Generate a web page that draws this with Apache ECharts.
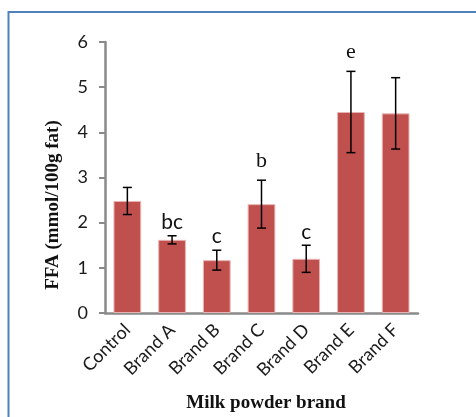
<!DOCTYPE html>
<html>
<head>
<meta charset="utf-8">
<script src="https://cdn.jsdelivr.net/npm/echarts@6/dist/echarts.min.js"></script>
<style>
html,body{margin:0;padding:0;background:#fff;}
#chart{width:476px;height:417px;}
</style>
</head>
<body>
<div id="chart"></div>
<script>
const categories = ['Control', 'Brand A', 'Brand B', 'Brand C', 'Brand D', 'Brand E', 'Brand F'];
const ffaValues = [2.48, 1.62, 1.17, 2.41, 1.20, 4.45, 4.42];
const ffaErrors = [0.30, 0.09, 0.22, 0.53, 0.30, 0.90, 0.79];
const sigLetters = ['', 'bc', 'c', 'b', 'c', 'e', ''];
const yTicks = [0, 1, 2, 3, 4, 5, 6];

const serifLetterSet = { b: true, e: true };
const sansFont = 'Lato, "Open Sans", "Liberation Sans", sans-serif';
const serifFont = '"Liberation Serif", "DejaVu Serif", serif';

const chart = echarts.init(document.getElementById('chart'), null, { renderer: 'canvas' });

const errData = categories.map((c, i) => [i, ffaValues[i], ffaErrors[i], sigLetters[i]]);

const option = {
  animation: false,
  backgroundColor: '#fff',
  grid: { left: 105, right: 58, top: 42, bottom: 104, containLabel: false },
  xAxis: {
    type: 'category',
    data: categories,
    axisLine: { show: true, lineStyle: { color: '#8a8a8a', width: 2.5 } },
    axisTick: { show: false },
    axisLabel: {
      interval: 0, rotate: 45, fontSize: 18, color: '#1a1a1a',
      fontFamily: sansFont, margin: 14
    },
    splitLine: { show: false }
  },
  yAxis: {
    type: 'value',
    min: yTicks[0],
    max: yTicks[yTicks.length - 1],
    interval: 1,
    axisLine: { show: true, lineStyle: { color: '#8a8a8a', width: 2.5 } },
    axisTick: { show: true, length: 6, lineStyle: { color: '#8a8a8a', width: 2 } },
    axisLabel: { fontSize: 18, color: '#1a1a1a', fontFamily: sansFont, margin: 17 },
    splitLine: { show: false }
  },
  series: [
    {
      type: 'bar',
      data: ffaValues,
      barWidth: '62%',
      itemStyle: { color: '#C0504D', borderColor: '#E8B4B2', borderWidth: 1 },
      z: 2
    },
    {
      type: 'custom',
      data: errData,
      z: 5,
      renderItem: function (params, api) {
        const i = api.value(0);
        const v = api.value(1);
        const e = api.value(2);
        const letter = sigLetters[i];
        const top = api.coord([i, v + e]);
        const bot = api.coord([i, v - e]);
        const cap = 4.5;
        const style = { stroke: '#000', lineWidth: 1.5 };
        const children = [
          { type: 'line', shape: { x1: top[0], y1: top[1], x2: bot[0], y2: bot[1] }, style: style },
          { type: 'line', shape: { x1: top[0] - cap, y1: top[1], x2: top[0] + cap, y2: top[1] }, style: style },
          { type: 'line', shape: { x1: bot[0] - cap, y1: bot[1], x2: bot[0] + cap, y2: bot[1] }, style: style }
        ];
        if (letter) {
          const serif = serifLetterSet[letter];
          children.push({
            type: 'text',
            style: {
              text: letter,
              x: top[0],
              y: top[1] - (serif ? 8 : 3),
              align: 'center',
              verticalAlign: 'bottom',
              font: (serif ? '22px ' + serifFont : '21px ' + sansFont),
              fill: '#111'
            }
          });
        }
        return { type: 'group', children: children };
      }
    }
  ],
  graphic: [
    {
      type: 'rect',
      shape: { x: 8.5, y: 12, width: 600, height: 600 },
      style: { fill: 'none', stroke: '#4F81BD', lineWidth: 2 },
      silent: true
    },
    {
      type: 'text',
      x: 53, y: 205,
      rotation: Math.PI / 2,
      style: {
        text: 'FFA (mmol/100g fat)',
        align: 'center', verticalAlign: 'middle',
        font: 'bold 19px ' + serifFont,
        fill: '#111'
      }
    },
    {
      type: 'text',
      x: 266, y: 403,
      style: {
        text: 'Milk powder brand',
        align: 'center', verticalAlign: 'middle',
        font: 'bold 19px ' + serifFont,
        fill: '#111'
      }
    }
  ]
};

chart.setOption(option);
</script>
</body>
</html>
